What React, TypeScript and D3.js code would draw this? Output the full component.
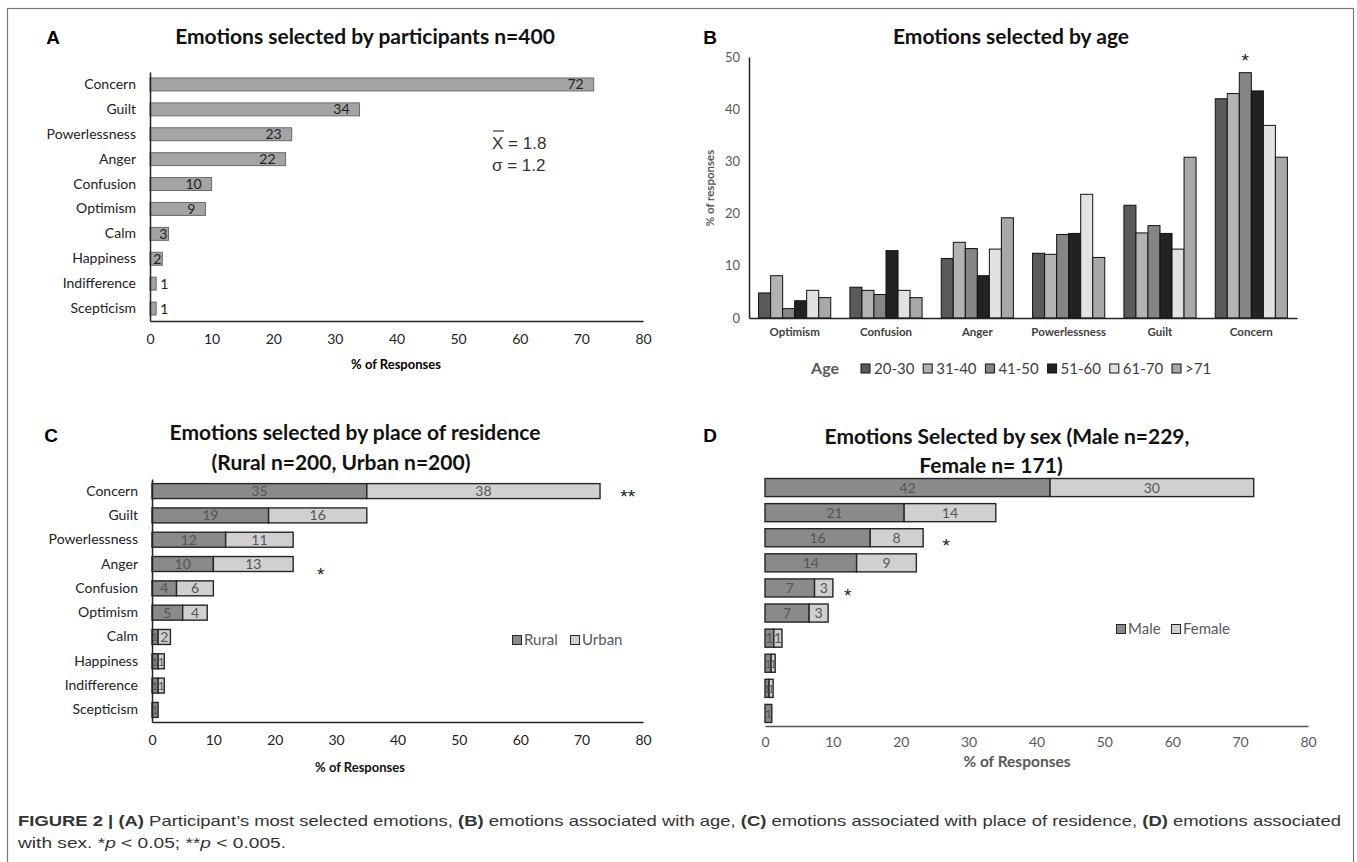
import React, { useEffect, useRef } from 'react';
import * as d3 from 'd3';

// shared categories (top to bottom in the horizontal panels)
const emotions = ['Concern', 'Guilt', 'Powerlessness', 'Anger', 'Confusion', 'Optimism', 'Calm', 'Happiness', 'Indifference', 'Scepticism'];
const xTicks = [0, 10, 20, 30, 40, 50, 60, 70, 80];

// A: overall
const overallPct = [72, 34, 23, 22, 10, 9, 3, 2, 1, 1];

// B: by age
const ageEmotions = ['Optimism', 'Confusion', 'Anger', 'Powerlessness', 'Guilt', 'Concern'];
const ageGroups = ['20-30', '31-40', '41-50', '51-60', '61-70', '>71'];
const age20_30 = [4.8, 5.9, 11.4, 12.4, 21.6, 42.0];
const age31_40 = [8.1, 5.3, 14.5, 12.2, 16.3, 43.0];
const age41_50 = [1.8, 4.5, 13.3, 16.0, 17.7, 47.0];
const age51_60 = [3.3, 12.9, 8.1, 16.2, 16.2, 43.5];
const age61_70 = [5.3, 5.3, 13.2, 23.7, 13.2, 36.9];
const age71 = [3.9, 3.9, 19.2, 11.6, 30.8, 30.8];
const ageColors = ['#5a5a5a', '#b3b3b3', '#858585', '#222222', '#e2e2e2', '#a8a8a8'];
const yTicksB = [0, 10, 20, 30, 40, 50];

// C: by residence
const ruralPct = [35, 19, 12, 10, 4, 5, 1, 1, 1, 1];
const urbanPct = [38, 16, 11, 13, 6, 4, 2, 1, 1, 0];

// D: by sex
const malePct = [42, 20.5, 15.5, 13.5, 7.3, 6.5, 1.3, 0.9, 0.6, 1.0];
const femalePct = [30, 13.5, 7.8, 8.8, 2.7, 2.8, 1.2, 0.6, 0.6, 0];

const FONT = "Lato, 'Open Sans', sans-serif";
const DARK = '#8a8a8a';
const LIGHT = '#d0d0d0';

const App = () => {
  const ref = useRef(null);

  useEffect(() => {
    const svg = d3.select(ref.current);
    svg.selectAll('*').remove();
    svg.style('font-family', FONT);

    const letter = (x, y, t) => svg.append('text')
      .attr('x', x).attr('y', y).attr('text-anchor', 'middle')
      .style('font-family', "'Liberation Sans', Arial, sans-serif")
      .style('font-weight', 'bold').style('font-size', '19px').text(t);

    const title = (x, y, t) => svg.append('text')
      .attr('x', x).attr('y', y).attr('text-anchor', 'middle')
      .style('font-weight', 'bold').style('font-size', '21px').attr('fill', '#111').text(t);

    const star = (x, y, t) => svg.append('text')
      .attr('x', x).attr('y', y).attr('text-anchor', 'middle')
      .style('font-family', "'Liberation Sans', Arial, sans-serif")
      .style('font-size', '19px').attr('fill', '#222').text(t);

    const styleAxis = (g, color, size, line) => {
      g.select('.domain').attr('stroke', line || '#222').attr('stroke-width', 1.5);
      g.selectAll('.tick text').attr('fill', color).style('font-size', size).style('font-family', FONT);
    };

    // frame
    svg.append('rect').attr('x', 7.5).attr('y', 8.5).attr('width', 1346).attr('height', 880)
      .attr('fill', 'none').attr('stroke', '#777').attr('stroke-width', 1.2);

    // ---------------- Panel A ----------------
    const xA = d3.scaleLinear().domain([0, 80]).range([150, 643]);
    const yA = d3.scaleBand().domain(emotions).range([72, 321]).paddingInner(0.48).paddingOuter(0.24);

    letter(53, 44, 'A');
    title(365, 44, 'Emotions selected by participants n=400');

    const dataA = emotions.map((e, i) => ({ e, v: overallPct[i] }));
    svg.append('g').selectAll('rect').data(dataA).join('rect')
      .attr('x', xA(0)).attr('y', d => yA(d.e))
      .attr('width', d => xA(d.v) - xA(0)).attr('height', yA.bandwidth())
      .attr('fill', '#a4a4a4').attr('stroke', '#6a6a6a').attr('stroke-width', 1);

    svg.append('g').selectAll('text').data(dataA).join('text')
      .attr('x', d => d.v >= 9 ? xA(d.v) - 10 : d.v >= 2 ? xA(d.v) - 1 : xA(d.v) + 4)
      .attr('y', d => yA(d.e) + yA.bandwidth() / 2)
      .attr('dy', '0.36em')
      .attr('text-anchor', d => d.v >= 2 ? 'end' : 'start')
      .style('font-size', '14px').attr('fill', '#222')
      .text(d => d.v);

    const axA = svg.append('g').attr('transform', 'translate(0,321)')
      .call(d3.axisBottom(xA).tickValues(xTicks).tickSize(0).tickPadding(13));
    styleAxis(axA, '#222', '14px');
    const ayA = svg.append('g').attr('transform', 'translate(150,0)')
      .call(d3.axisLeft(yA).tickSize(0).tickPadding(14));
    styleAxis(ayA, '#222', '14px');

    svg.append('text').attr('x', 396).attr('y', 369).attr('text-anchor', 'middle')
      .style('font-weight', 'bold').style('font-size', '13px').text('% of Responses');

    const stats = svg.append('g').style('font-family', "'Liberation Sans', Arial, sans-serif")
      .style('font-size', '17px').attr('fill', '#333');
    stats.append('text').attr('x', 492).attr('y', 149).text('X = 1.8');
    stats.append('line').attr('x1', 493).attr('x2', 504).attr('y1', 131).attr('y2', 131)
      .attr('stroke', '#333').attr('stroke-width', 1.2);
    stats.append('text').attr('x', 492).attr('y', 171).text('σ = 1.2');

    // ---------------- Panel B ----------------
    const xB = d3.scaleBand().domain(ageEmotions).range([749, 1297]).paddingInner(0.21).paddingOuter(0.105);
    const xAge = d3.scaleBand().domain(ageGroups).range([0, xB.bandwidth()]);
    const yB = d3.scaleLinear().domain([0, 50]).range([318, 57]);
    const ageSeries = [age20_30, age31_40, age41_50, age51_60, age61_70, age71];

    letter(710, 44, 'B');
    title(1011, 44, 'Emotions selected by age');

    const groups = svg.append('g').selectAll('g').data(ageEmotions).join('g')
      .attr('transform', d => `translate(${xB(d)},0)`);
    groups.selectAll('rect')
      .data((d, i) => ageGroups.map((a, j) => ({ a, j, v: ageSeries[j][i] })))
      .join('rect')
      .attr('x', d => xAge(d.a)).attr('y', d => yB(d.v))
      .attr('width', xAge.bandwidth()).attr('height', d => yB(0) - yB(d.v))
      .attr('fill', d => ageColors[d.j]).attr('stroke', '#111').attr('stroke-width', 1);

    const ayB = svg.append('g').attr('transform', 'translate(749,0)')
      .call(d3.axisLeft(yB).tickValues(yTicksB).tickSize(0).tickPadding(9));
    styleAxis(ayB, '#595959', '13px');
    const axB = svg.append('g').attr('transform', 'translate(0,318)')
      .call(d3.axisBottom(xB).tickSize(0).tickPadding(10));
    styleAxis(axB, '#404040', '11.5px');
    axB.selectAll('.tick text').style('font-weight', 'bold');

    svg.append('text').attr('transform', 'translate(714,188) rotate(-90)').attr('text-anchor', 'middle')
      .style('font-weight', 'bold').style('font-size', '11.5px').attr('fill', '#595959').text('% of responses');

    // significance star over 41-50 concern
    star(xB('Concern') + xAge('41-50') + xAge.bandwidth() / 2, yB(age41_50[5]) - 6, '*');

    svg.append('text').attr('x', 825).attr('y', 374).attr('text-anchor', 'middle')
      .style('font-weight', 'bold').style('font-size', '16px').attr('fill', '#595959').text('Age');
    const legB = svg.append('g').selectAll('g').data(ageGroups).join('g')
      .attr('transform', (d, i) => `translate(${861 + i * 62.2},364)`);
    legB.append('rect').attr('width', 9).attr('height', 9)
      .attr('fill', (d, i) => ageColors[i]).attr('stroke', '#111');
    legB.append('text').attr('x', 13).attr('y', 9.5)
      .style('font-size', '15px').attr('fill', '#404040').text(d => d);

    // ---------------- stacked panels C & D ----------------
    const stacked = (opts) => {
      const { x, y, a, b, names, letterX, titleLines, starList, legendX, legendY, tickColor, axisLabel, showCats } = opts;
      const rows = emotions.map((e, i) => ({ e, [names[0]]: a[i], [names[1]]: b[i] }));
      const series = d3.stack().keys(names)(rows);
      const colors = [DARK, LIGHT];

      letter(letterX, 442, opts.letter);
      titleLines.forEach(t => title(t.x, t.y, t.text));

      const layers = svg.append('g').selectAll('g').data(series).join('g')
        .attr('fill', (d, i) => colors[i]);
      layers.selectAll('rect').data(d => d.filter(p => p[1] - p[0] > 0)).join('rect')
        .attr('x', d => x(d[0])).attr('y', d => y(d.data.e))
        .attr('width', d => x(d[1]) - x(d[0])).attr('height', y.bandwidth())
        .attr('stroke', '#262626').attr('stroke-width', 1.4);
      layers.selectAll('text').data(d => d.filter(p => p[1] - p[0] > 0)).join('text')
        .attr('x', d => (x(d[0]) + x(d[1])) / 2)
        .attr('y', d => y(d.data.e) + y.bandwidth() / 2).attr('dy', '0.36em')
        .attr('text-anchor', 'middle').style('font-size', d => (x(d[1]) - x(d[0]) < 8 ? '12px' : '14px')).attr('fill', '#555')
        .text(d => Math.max(1, Math.round(d[1] - d[0])));

      const ax = svg.append('g').attr('transform', `translate(0,${y.range()[1]})`)
        .call(d3.axisBottom(x).tickValues(xTicks).tickSize(0).tickPadding(opts.tickPad));
      styleAxis(ax, tickColor, '14px', showCats ? '#222' : '#555');
      if (showCats) {
        const ay = svg.append('g').attr('transform', `translate(${x(0)},0)`)
          .call(d3.axisLeft(y).tickSize(0).tickPadding(14));
        styleAxis(ay, '#222', '14px');
      }
      svg.append('text').attr('x', axisLabel.x).attr('y', axisLabel.y).attr('text-anchor', 'middle')
        .style('font-weight', 'bold').style('font-size', axisLabel.size).attr('fill', axisLabel.color)
        .text('% of Responses');

      starList.forEach(s => star(x(s.at), y(s.e) + y.bandwidth() / 2 + s.dy, s.label));

      const leg = svg.append('g').selectAll('g').data(names).join('g')
        .attr('transform', (d, i) => `translate(${legendX[i]},${legendY})`);
      leg.append('rect').attr('x', -4.5).attr('y', -4.5).attr('width', 9).attr('height', 9)
        .attr('fill', (d, i) => colors[i]).attr('stroke', '#262626');
      leg.append('text').attr('x', 7).attr('y', 0).attr('dy', '0.36em')
        .style('font-size', '15px').attr('fill', '#595959').text(d => d);
    };

    stacked({
      letter: 'C', letterX: 51,
      x: d3.scaleLinear().domain([0, 80]).range([152, 643]),
      y: d3.scaleBand().domain(emotions).range([479, 722]).paddingInner(0.385).paddingOuter(0.19),
      a: ruralPct, b: urbanPct, names: ['Rural', 'Urban'],
      titleLines: [
        { x: 355, y: 440, text: 'Emotions selected by place of residence' },
        { x: 341, y: 470, text: '(Rural n=200, Urban n=200)' },
      ],
      starList: [
        { e: 'Concern', at: 77.5, label: '**', dy: 12 },
        { e: 'Anger', at: 27.5, label: '*', dy: 17 },
      ],
      legendX: [517, 575], legendY: 640,
      tickColor: '#222', tickPad: 13,
      axisLabel: { x: 360, y: 772, size: '13px', color: '#111' },
      showCats: true,
    });

    stacked({
      letter: 'D', letterX: 710,
      x: d3.scaleLinear().domain([0, 80]).range([765, 1308]),
      y: d3.scaleBand().domain(emotions).range([475, 726]).paddingInner(0.28).paddingOuter(0.14),
      a: malePct, b: femalePct, names: ['Male', 'Female'],
      titleLines: [
        { x: 1007, y: 444, text: 'Emotions Selected by sex (Male n=229,' },
        { x: 991, y: 473, text: 'Female n= 171)' },
      ],
      starList: [
        { e: 'Powerlessness', at: 26.7, label: '*', dy: 14 },
        { e: 'Confusion', at: 12.2, label: '*', dy: 14 },
      ],
      legendX: [1121, 1176], legendY: 629,
      tickColor: '#595959', tickPad: 11,
      axisLabel: { x: 1017, y: 767, size: '15.5px', color: '#595959' },
      showCats: false,
    });

    // ---------------- caption ----------------
    const cap1 = svg.append('text').attr('x', 18).attr('y', 826)
      .attr('textLength', 1323).attr('lengthAdjust', 'spacingAndGlyphs')
      .style('font-family', "'Liberation Sans Narrow', 'Liberation Sans', Arial, sans-serif")
      .style('font-size', '15px').attr('fill', '#333');
    const parts1 = [
      ['FIGURE 2 | (A)', true], [' Participant’s most selected emotions, ', false], ['(B)', true],
      [' emotions associated with age, ', false], ['(C)', true],
      [' emotions associated with place of residence, ', false], ['(D)', true], [' emotions associated', false],
    ];
    parts1.forEach(([t, b]) => cap1.append('tspan').style('font-weight', b ? 'bold' : 'normal').text(t));

    const cap2 = svg.append('text').attr('x', 18).attr('y', 848)
      .attr('textLength', 268).attr('lengthAdjust', 'spacingAndGlyphs')
      .style('font-family', "'Liberation Sans Narrow', 'Liberation Sans', Arial, sans-serif")
      .style('font-size', '15px').attr('fill', '#333');
    const parts2 = [['with sex. *', false], ['p', true], [' < 0.05; **', false], ['p', true], [' < 0.005.', false]];
    parts2.forEach(([t, it]) => cap2.append('tspan').style('font-style', it ? 'italic' : 'normal').text(t));
  }, []);

  return (
    <svg ref={ref} width={1357} height={862}
      style={{ position: 'absolute', left: 0, top: 0, background: '#fff' }}></svg>
  );
};

export default App;
